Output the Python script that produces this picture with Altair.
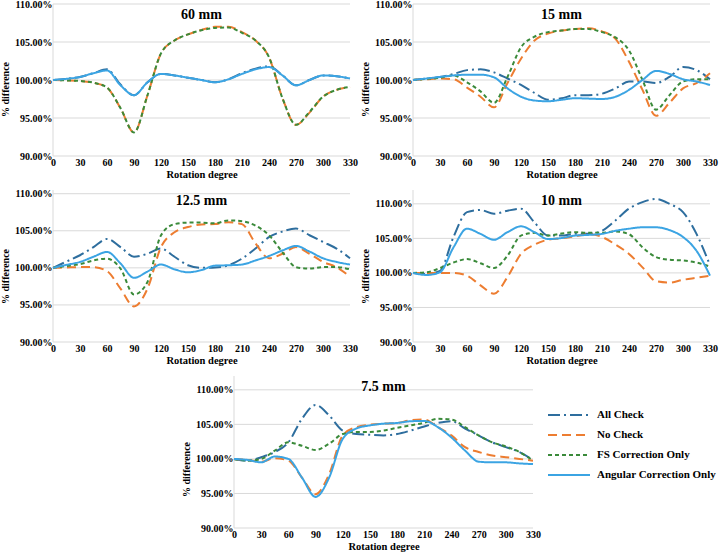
import altair as alt
import pandas as pd

# Rotation angles (degrees) at which each field size was measured
DEG = [0, 15, 30, 45, 60, 75, 90, 105, 120, 135, 150, 165,
       180, 195, 210, 225, 240, 255, 270, 285, 300, 315, 330]

SERIES = ["All Check", "No Check", "FS Correction Only", "Angular Correction Only"]
COLORS = ["#2E6E9E", "#ED7D31", "#3A8A3A", "#3BA4E3"]
DASHES = [[12, 4, 2, 4], [9, 5], [4, 3], [1, 0]]
GRID_VALUES = [90, 95, 100, 105, 110]

# 60 mm field
P60_ALL = [100.0, 100.15, 100.4, 100.9, 101.4, 99.4, 98.0, 99.7, 100.8, 100.6, 100.3, 100.0,
           99.7, 100.1, 100.9, 101.5, 101.8, 100.6, 99.3, 100.0, 100.6, 100.5, 100.2]
P60_NO = [100.0, 99.95, 99.87, 99.65, 99.0, 96.3, 93.1, 98.0, 103.5, 105.2, 106.0, 106.6,
          107.0, 107.0, 106.3, 105.2, 103.0, 97.6, 94.1, 95.7, 97.8, 98.7, 99.1]
P60_FS = [100.0, 99.95, 99.87, 99.65, 99.0, 96.3, 93.1, 98.0, 103.5, 105.2, 106.0, 106.55,
          106.85, 106.9, 106.2, 105.2, 103.0, 97.6, 94.1, 95.8, 97.8, 98.7, 99.1]
P60_ANG = [100.0, 100.15, 100.4, 100.9, 101.25, 99.3, 98.0, 99.7, 100.8, 100.6, 100.3, 100.0,
           99.7, 100.1, 100.8, 101.4, 101.7, 100.6, 99.3, 100.0, 100.6, 100.5, 100.2]

# 15 mm field
P15_ALL = [100.0, 100.2, 100.4, 100.8, 101.3, 101.4, 101.0, 100.2, 99.35, 98.3, 97.4, 97.6,
           98.0, 98.0, 98.2, 98.9, 99.8, 99.8, 99.6, 100.4, 101.7, 101.3, 100.1]
P15_NO = [100.0, 100.1, 100.2, 100.1, 99.0, 97.8, 96.4, 99.6, 102.8, 105.2, 106.1, 106.5,
          106.7, 106.8, 106.4, 105.4, 102.4, 98.7, 95.3, 97.0, 98.9, 99.6, 100.9]
P15_FS = [100.0, 100.15, 100.3, 100.6, 99.7, 98.5, 97.0, 100.4, 104.3, 105.7, 106.3, 106.5,
          106.7, 106.7, 106.3, 105.6, 103.9, 100.0, 96.1, 98.0, 99.8, 100.1, 100.1]
P15_ANG = [100.0, 100.2, 100.4, 100.6, 100.7, 100.7, 100.35, 98.9, 97.8, 97.3, 97.2, 97.4,
           97.6, 97.55, 97.5, 97.8, 98.7, 100.0, 101.2, 100.8, 100.1, 99.8, 99.35]

# 12.5 mm field
P125_ALL = [100.0, 100.85, 101.7, 102.8, 103.9, 102.8, 101.5, 101.9, 102.6, 101.5, 100.35, 100.0,
            100.05, 100.35, 101.25, 102.6, 104.15, 104.9, 105.3, 104.4, 103.5, 102.6, 101.3]
P125_NO = [100.0, 100.05, 100.1, 100.1, 99.55, 97.2, 94.8, 97.2, 102.8, 104.8, 105.5, 105.85,
           105.9, 106.15, 105.9, 103.3, 101.3, 101.9, 102.8, 101.9, 100.8, 100.1, 98.8]
P125_FS = [100.0, 100.25, 100.5, 101.0, 101.25, 99.9, 96.4, 98.1, 104.4, 105.9, 106.1, 106.1,
           106.0, 106.4, 106.3, 105.7, 104.4, 102.1, 100.1, 99.9, 100.1, 100.1, 99.8]
P125_ANG = [100.0, 100.4, 100.8, 101.5, 102.15, 100.6, 98.65, 99.5, 100.45, 99.8, 99.4, 99.7,
            100.3, 100.35, 100.45, 101.0, 101.6, 102.35, 102.95, 102.2, 101.3, 100.8, 100.45]

# 10 mm field
P10_ALL = [100.0, 99.85, 100.3, 105.2, 108.8, 109.1, 108.55, 109.0, 109.3, 107.3, 105.4, 105.4,
           105.65, 105.65, 106.1, 107.6, 109.3, 110.25, 110.7, 110.0, 108.8, 105.65, 101.1]
P10_NO = [100.0, 100.0, 100.0, 100.0, 99.6, 98.2, 97.0, 99.4, 102.75, 104.1, 104.8, 105.0,
          105.3, 105.6, 105.2, 104.1, 102.75, 100.8, 98.8, 98.6, 99.0, 99.3, 99.6]
P10_FS = [100.0, 100.1, 100.7, 101.5, 102.0, 101.4, 100.7, 102.5, 105.4, 105.8, 105.4, 105.7,
          105.9, 105.8, 105.8, 106.0, 105.6, 103.7, 102.3, 101.9, 101.8, 101.5, 100.9]
P10_ANG = [100.0, 99.7, 100.1, 103.7, 106.4, 105.65, 104.8, 105.9, 106.75, 105.9, 104.9, 105.05,
           105.4, 105.5, 105.65, 106.1, 106.4, 106.6, 106.6, 106.2, 105.2, 103.2, 99.6]

# 7.5 mm field
P75_ALL = [100.0, 99.75, 100.25, 101.0, 102.4, 105.8, 107.8, 106.3, 104.1, 103.6, 103.5, 103.4,
           103.6, 104.1, 104.7, 105.2, 105.45, 104.4, 103.4, 102.4, 101.7, 101.0, 99.85]
P75_NO = [100.0, 99.85, 99.6, 100.1, 99.75, 97.3, 94.9, 97.8, 103.4, 104.6, 104.95, 105.1,
          105.2, 105.6, 105.7, 104.6, 103.4, 101.7, 101.0, 100.5, 100.25, 100.0, 99.75]
P75_FS = [100.0, 99.75, 100.0, 101.2, 102.4, 101.9, 101.3, 102.2, 103.6, 103.9, 103.9, 104.1,
          104.5, 104.85, 105.25, 105.8, 105.7, 104.6, 103.4, 102.4, 101.8, 101.0, 99.75]
P75_ANG = [100.0, 99.85, 99.5, 100.35, 100.0, 97.3, 94.5, 97.3, 102.9, 104.4, 104.85, 105.1,
           105.2, 105.45, 105.5, 104.6, 103.1, 101.2, 99.6, 99.5, 99.5, 99.35, 99.25]

FONT = "Liberation Serif"
GRID = "#d9d9d9"


def frame(series_lists):
    rows = []
    for name, values in zip(SERIES, series_lists):
        for d, v in zip(DEG, values):
            rows.append({"series": name, "deg": d, "value": v})
    return pd.DataFrame(rows)


# a long horizontal stroke as the legend symbol
legend = alt.Legend(
    title=None, orient="none", legendX=508, legendY=403,
    symbolType="M-3,0H3", symbolSize=196, symbolStrokeWidth=2,
    labelFont=FONT, labelFontSize=11, labelFontWeight="bold", labelColor="black",
    labelOffset=20, rowPadding=7, padding=0,
)


def panel(title, series_lists, ymax, title_y, width=297, height=152, shift=0):
    data = frame(series_lists)
    x_scale = alt.Scale(domain=[0, 330], nice=False, zero=False, range=[shift, shift + width])
    y_scale = alt.Scale(domain=[90, ymax], nice=False, zero=False)
    x_axis = alt.Axis(
        values=list(range(0, 331, 30)), title="Rotation degree", grid=False, domain=False,
        ticks=False, tickSize=0, labelPadding=1, labelFont=FONT, labelFontSize=10,
        labelFontWeight="bold", labelColor="black", labelOverlap=False, labelFlush=False,
        titleFont=FONT, titleFontSize=10.5, titleFontWeight="bold", titleColor="black",
        titlePadding=2, titleX=shift + width / 2,
    )
    y_axis = alt.Axis(
        values=GRID_VALUES, title="% difference", grid=False, domain=False,
        labelExpr="format(datum.value, '.2f') + '%'",
        ticks=False, tickSize=0, labelPadding=1, labelFlush=False,
        labelFont=FONT, labelFontSize=10, labelFontWeight="bold", labelColor="black",
        titleFont=FONT, titleFontSize=10, titleFontWeight="bold", titleColor="black",
        titleX=-48, titleY=title_y, titleBaseline="middle",
        offset=-shift,
    )
    # horizontal gridlines across the plotted angle range
    grid = (
        alt.Chart(pd.DataFrame({"level": GRID_VALUES}))
        .mark_rule(color=GRID, strokeWidth=1)
        .encode(
            y=alt.Y("level:Q", scale=y_scale, axis=y_axis),
            x=alt.X(datum=0, scale=x_scale, axis=x_axis),
            x2=alt.X2(datum=330),
        )
    )
    # vertical value-axis line at 0 degrees
    axis_line = (
        alt.Chart(pd.DataFrame({"deg": [0]}))
        .mark_rule(color=GRID, strokeWidth=1)
        .encode(
            x=alt.X("deg:Q", scale=x_scale, axis=x_axis),
            y=alt.Y(datum=90, scale=y_scale, axis=y_axis),
            y2=alt.Y2(datum=ymax),
        )
    )
    layers = [grid, axis_line]
    for s in SERIES:
        layers.append(
            alt.Chart(data)
            .transform_filter(alt.datum.series == s)
            .mark_line(interpolate="monotone", strokeWidth=2)
            .encode(
                x=alt.X("deg:Q", scale=x_scale, axis=x_axis),
                y=alt.Y("value:Q", scale=y_scale, axis=y_axis),
                color=alt.Color("series:N", scale=alt.Scale(domain=SERIES, range=COLORS), legend=legend),
                strokeDash=alt.StrokeDash("series:N", scale=alt.Scale(domain=SERIES, range=DASHES), legend=legend),
            )
        )
    # field-size caption inside the top of the panel
    caption = (
        alt.Chart(pd.DataFrame({"label": [title]}))
        .mark_text(font=FONT, fontSize=14, fontWeight="bold", color="black", baseline="alphabetic")
        .encode(x=alt.value(shift + width / 2), y=alt.value(15), text="label:N")
    )
    return alt.layer(*layers, caption).properties(
        width=297, height=height,
        view=alt.ViewBackground(stroke="transparent", strokeWidth=0, fill="transparent"),
    )


p60 = panel("60 mm", [P60_ALL, P60_NO, P60_FS, P60_ANG], 110, 85)
p15 = panel("15 mm", [P15_ALL, P15_NO, P15_FS, P15_ANG], 110, 85)
p125 = panel("12.5 mm", [P125_ALL, P125_NO, P125_FS, P125_ANG], 110.5, 86)
p10 = panel("10 mm", [P10_ALL, P10_NO, P10_FS, P10_ANG], 112, 86)
# bottom panel sits towards the middle of the figure
p75 = panel("7.5 mm", [P75_ALL, P75_NO, P75_FS, P75_ANG], 112, 93, width=299, shift=181)

chart = alt.concat(
    p60, p15, p125, p10, p75,
    columns=2, spacing={"row": 34, "column": 63}, bounds="flush",
).properties(
    autosize=alt.AutoSizeParams(type="none"),
    padding={"left": 53, "top": 4, "right": 668, "bottom": 548},
).configure_view(stroke="transparent", strokeWidth=0).configure(background="white")

chart.save("out.html", embed_options={"renderer": "svg", "actions": False})
